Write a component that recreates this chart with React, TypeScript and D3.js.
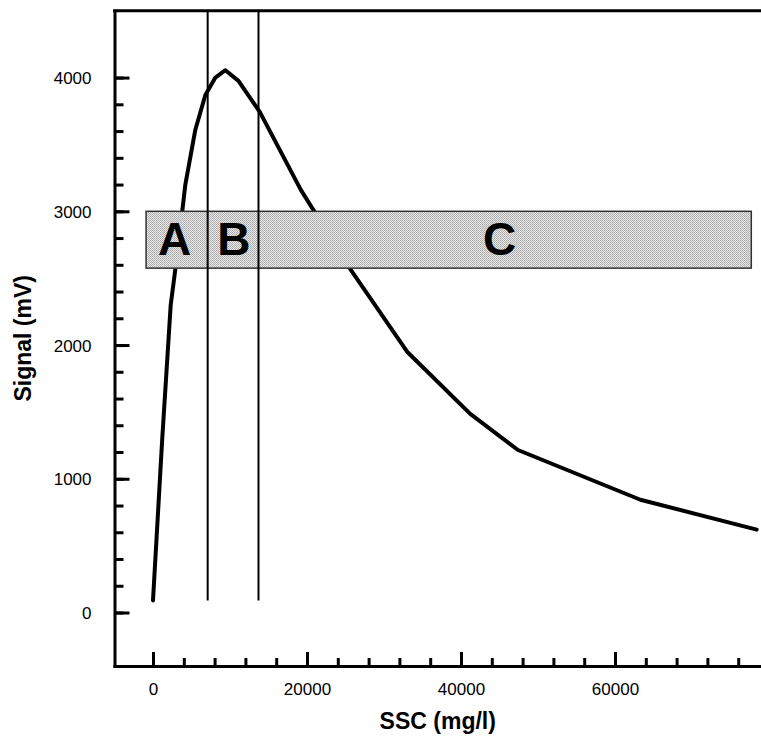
import React, { useEffect, useRef } from 'react';
import * as d3 from 'd3';

// SSC (mg/l) vs signal (mV)
const ssc = [0, 1200, 2300, 3200, 4200, 5500, 6800, 8100, 9400, 11100, 13900, 19200, 25600, 33000, 41200, 47400, 63300, 78400];
const signal = [90, 1300, 2300, 2700, 3200, 3610, 3870, 4000, 4055, 3975, 3740, 3160, 2570, 1950, 1485, 1215, 843, 620];

// zone boundaries (vertical lines) and the shaded band
const zoneLines = [7100, 13700];
const zoneLineBottom = 90;
const band = { x0: -900, x1: 77700, y0: 2575, y1: 3000 };
const zoneLabels = ['A', 'B', 'C'];
const zoneLabelX = [2800, 10500, 45000];

const xMajorTicks = [0, 20000, 40000, 60000];
const xMinorTicks = d3.range(0, 76001, 4000);
const yMajorTicks = [0, 1000, 2000, 3000, 4000];
const yMinorTicks = d3.range(0, 4001, 200);

const W = 761;
const H = 736;
const FONT = "'Liberation Sans', Arial, sans-serif";

const App: React.FC = () => {
  const svgRef = useRef<SVGSVGElement>(null);

  useEffect(() => {
    if (!svgRef.current) return;
    const svg = d3.select(svgRef.current);
    svg.selectAll('*').remove();

    const x = d3.scaleLinear().domain([-5000, 79000]).range([114.5, 761.3]);
    const y = d3.scaleLinear().domain([-400, 4500]).range([666, 10.7]);

    svg.append('rect').attr('width', W).attr('height', H).attr('fill', 'white');

    // dotted fill for the band
    const defs = svg.append('defs');
    const pat = defs.append('pattern')
      .attr('id', 'dots')
      .attr('width', 2)
      .attr('height', 2)
      .attr('patternUnits', 'userSpaceOnUse');
    pat.append('rect').attr('width', 2).attr('height', 2).attr('fill', '#e8e8e8');
    pat.append('rect').attr('width', 1).attr('height', 1).attr('fill', '#a8a8a8');
    pat.append('rect').attr('x', 1).attr('y', 1).attr('width', 1).attr('height', 1).attr('fill', '#b4b4b4');

    // curve
    const pts = ssc.map((s, i) => [s, signal[i]] as [number, number]);
    const line = d3.line<[number, number]>()
      .x(d => x(d[0]))
      .y(d => y(d[1]));
    svg.append('path')
      .datum(pts)
      .attr('d', line)
      .attr('fill', 'none')
      .attr('stroke', 'black')
      .attr('stroke-width', 4)
      .attr('stroke-linejoin', 'round')
      .attr('stroke-linecap', 'round');

    // band sits over the curve
    svg.append('rect')
      .attr('x', x(band.x0))
      .attr('y', y(band.y1))
      .attr('width', x(band.x1) - x(band.x0))
      .attr('height', y(band.y0) - y(band.y1))
      .attr('fill', 'url(#dots)')
      .attr('stroke', '#333')
      .attr('stroke-width', 1.5);

    // zone lines
    svg.selectAll('.zone')
      .data(zoneLines)
      .enter()
      .append('line')
      .attr('x1', d => x(d))
      .attr('x2', d => x(d))
      .attr('y1', y(4500))
      .attr('y2', y(zoneLineBottom))
      .attr('stroke', 'black')
      .attr('stroke-width', 2);

    // zone letters
    svg.selectAll('.zlabel')
      .data(zoneLabels)
      .enter()
      .append('text')
      .attr('x', (_, i) => x(zoneLabelX[i]))
      .attr('y', y(band.y0) - 13)
      .attr('text-anchor', 'middle')
      .attr('font-family', FONT)
      .attr('font-weight', 'bold')
      .attr('font-size', 46)
      .text(d => d);

    // y axis (ticks point inward)
    const yAxis = svg.append('g')
      .attr('transform', `translate(${x(-5000)},0)`)
      .call(d3.axisLeft(y).tickValues(yMajorTicks).tickSize(-15).tickSizeOuter(0).tickPadding(23).tickFormat(d3.format('d')));
    svg.append('g')
      .attr('transform', `translate(${x(-5000)},0)`)
      .call(d3.axisLeft(y).tickValues(yMinorTicks).tickSize(-9).tickSizeOuter(0).tickFormat(() => ''))
      .call(g => g.select('.domain').remove());

    // x axis
    const xAxis = svg.append('g')
      .attr('transform', `translate(0,${y(-400)})`)
      .call(d3.axisBottom(x).tickValues(xMajorTicks).tickSize(-14).tickSizeOuter(0).tickPadding(17).tickFormat(d3.format('d')));
    svg.append('g')
      .attr('transform', `translate(0,${y(-400)})`)
      .call(d3.axisBottom(x).tickValues(xMinorTicks).tickSize(-8).tickSizeOuter(0).tickFormat(() => ''))
      .call(g => g.select('.domain').remove());

    svg.selectAll('.tick line').attr('stroke', 'black').attr('stroke-width', 3);
    [yAxis, xAxis].forEach(a => {
      a.select('.domain').attr('stroke', 'black').attr('stroke-width', 3).attr('stroke-linecap', 'square');
      a.selectAll('text')
        .attr('font-family', FONT)
        .attr('font-size', 17)
        .attr('fill', 'black');
    });
    yAxis.selectAll('text').attr('dy', '0.36em');

    // top frame line
    svg.append('line')
      .attr('x1', 113)
      .attr('x2', W)
      .attr('y1', y(4500))
      .attr('y2', y(4500))
      .attr('stroke', 'black')
      .attr('stroke-width', 3);

    // titles
    svg.append('text')
      .attr('x', (x(-5000) + W) / 2)
      .attr('y', 729)
      .attr('text-anchor', 'middle')
      .attr('font-family', FONT)
      .attr('font-weight', 'bold')
      .attr('font-size', 23)
      .text('SSC (mg/l)');

    svg.append('text')
      .attr('transform', `translate(31,${(y(4500) + y(-400)) / 2}) rotate(-90)`)
      .attr('text-anchor', 'middle')
      .attr('font-family', FONT)
      .attr('font-weight', 'bold')
      .attr('font-size', 23)
      .text('Signal (mV)');
  }, []);

  return (
    <svg
      ref={svgRef}
      width={W}
      height={H}
      style={{ position: 'absolute', left: 0, top: 0, display: 'block' }}
    />
  );
};

export default App;
